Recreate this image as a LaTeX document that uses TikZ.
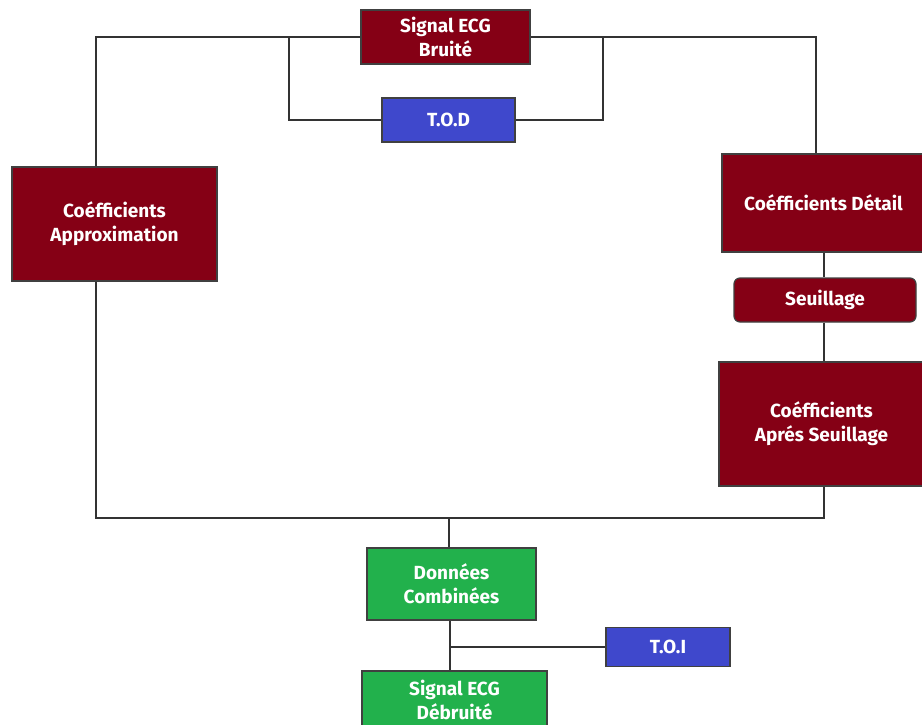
\documentclass[tikz,border=0pt]{standalone}
\usepackage{fontspec}
\setmainfont{Fira Sans}
\begin{document}
\begin{tikzpicture}[x=1pt,y=-1pt,
  box/.style={draw=black!75, line width=1.2pt, text=white, font=\fontsize{19}{24}\selectfont\bfseries, align=center, inner sep=0pt},
  bluebox/.style={box, fill={rgb,255:red,63;green,72;blue,204}},
  greenbox/.style={box, fill={rgb,255:red,34;green,177;blue,76}},
  wire/.style={draw=black!80, line width=1.2pt}]
\useasboundingbox (0,0) rectangle (922,725);
\definecolor{ecgred}{RGB}{133,0,21}
% boxes, placed by centre with explicit sizes
\node[box, fill=ecgred, minimum width=169, minimum height=54] (sig) at (445.5,37) {Signal ECG\\Bruité};
\node[bluebox, minimum width=133, minimum height=44] (tod) at (448.5,120) {T.O.D};
\node[box, fill=ecgred, minimum width=205, minimum height=114] (approx) at (114.5,224) {Coéfficients\\Approximation};
\node[box, fill=ecgred, minimum width=203, minimum height=98] (detail) at (823.5,203) {Coéfficients Détail};
\node[box, fill=ecgred, rounded corners=6pt, minimum width=182, minimum height=44] (seuil) at (825,300) {Seuillage};
\node[box, fill=ecgred, minimum width=205, minimum height=124] (apres) at (821.5,424) {Coéfficients\\Aprés Seuillage};
\node[greenbox, minimum width=169, minimum height=72] (comb) at (451.5,584) {Données\\Combinées};
\node[bluebox, minimum width=124, minimum height=39] (toi) at (668,647) {T.O.I};
\node[greenbox, minimum width=185, minimum height=58] (deb) at (454.5,700) {Signal ECG\\Débruité};
% bend points of the wires
\coordinate (tl) at (96,37);
\coordinate (tr) at (816,37);
\coordinate (ml) at (289,37);
\coordinate (mr) at (603,37);
\coordinate (bl) at (96,518);
\coordinate (br) at (824,518);
\coordinate (bj) at (449,518);
\coordinate (ij) at (450,647);
% wires
\draw[wire] (sig.west) -- (tl) -- (tl |- approx.north);
\draw[wire] (sig.east) -- (tr) -- (tr |- detail.north);
\draw[wire] (ml) |- (tod.west);
\draw[wire] (mr) |- (tod.east);
\draw[wire] (bl |- approx.south) -- (bl) -- (br) -- (br |- apres.south);
\draw[wire] (br |- detail.south) -- (br |- seuil.north);
\draw[wire] (br |- seuil.south) -- (br |- apres.north);
\draw[wire] (bj) -- (bj |- comb.north);
\draw[wire] (ij |- comb.south) -- (ij |- deb.north);
\draw[wire] (ij) -- (toi.west);
\end{tikzpicture}
\end{document}
